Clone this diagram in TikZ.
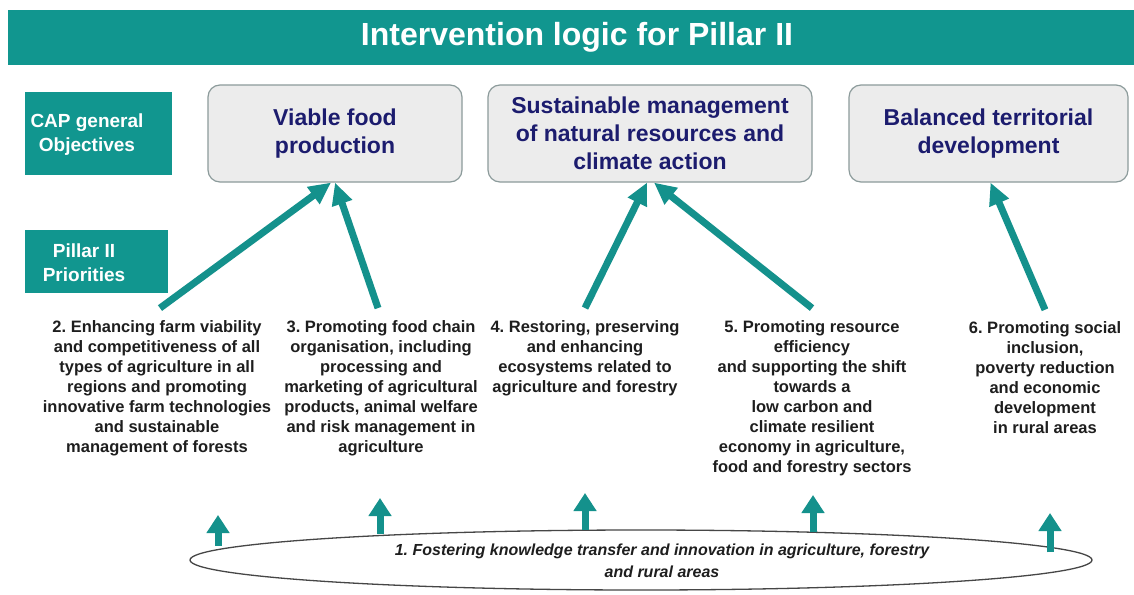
\documentclass[tikz,border=0pt]{standalone}
\usepackage{fontspec}
\setmainfont{Liberation Sans}
\usetikzlibrary{arrows.meta,shapes.geometric,calc}
\definecolor{teal1}{RGB}{17,150,143}
\definecolor{arrowteal}{RGB}{20,145,140}
\definecolor{boxfill}{RGB}{236,236,236}
\definecolor{boxdraw}{RGB}{140,155,155}
\definecolor{navy}{RGB}{28,28,110}
\definecolor{txt}{RGB}{30,30,30}
\definecolor{ellgray}{RGB}{70,70,70}
\frenchspacing
\begin{document}
\begin{tikzpicture}[x=1pt,y=-1pt,
  lbl/.style={text=white, font=\bfseries\fontsize{19}{24}\selectfont, align=center, inner sep=0pt},
  objbox/.style={draw=boxdraw, line width=1.2pt, fill=boxfill, rounded corners=12pt, minimum height=97pt, text=navy, font=\bfseries\fontsize{23}{28}\selectfont, align=center},
  prio/.style={text=txt, font=\bfseries\fontsize{16.5}{20}\selectfont, align=center, inner sep=0pt},
  bigarrow/.style={draw=arrowteal, line width=7pt, -{Triangle[length=22pt,width=20pt]}},
  smallarrow/.style={draw=arrowteal, line width=7pt, -{Triangle[length=18pt,width=22pt]}},
]
\fill[white] (0,0) rectangle (1134,594);
\useasboundingbox (0,0) rectangle (1134,594);

% title bar
\fill[teal1] (8,10) rectangle (1134,65);
\node[text=white, font=\bfseries\fontsize{32}{38}\selectfont] (title) at (577,37) {Intervention logic for Pillar II};

% row labels
\fill[teal1] (25,92) rectangle (172,175);
\node[lbl] (cap) at (87,135) {CAP general\\Objectives};
\fill[teal1] (25,230) rectangle (168,293);
\node[lbl] (pil) at (84,263) {Pillar II\\Priorities};

% objectives
\node[objbox, minimum width=254pt] (o1) at (335,133.5) {Viable food\\production};
\node[objbox, minimum width=324pt] (o2) at (650,133.5) {Sustainable management\\of natural resources and\\climate action};
\node[objbox, minimum width=279pt] (o3) at (988.5,133.5) {Balanced territorial\\development};

% priorities
\node[prio] (p2) at (157,388) {2. Enhancing farm viability\\and competitiveness of all\\types of agriculture in all\\regions and promoting\\innovative farm technologies\\and sustainable\\management of forests};
\node[prio] (p3) at (381,388) {3. Promoting food chain\\organisation, including\\processing and\\marketing of agricultural\\products, animal welfare\\and risk management in\\agriculture};
\node[prio] (p4) at (585,358) {4. Restoring, preserving\\and enhancing\\ecosystems related to\\agriculture and forestry};
\node[prio] (p5) at (812,398) {5. Promoting resource\\efficiency\\and supporting the shift\\towards a\\low carbon and\\climate resilient\\economy in agriculture,\\food and forestry sectors};
\node[prio] (p6) at (1045,378) {6. Promoting social\\inclusion,\\poverty reduction\\and economic\\development\\in rural areas};

% arrows priorities -> objectives
\draw[bigarrow] ($(p2.north)+(3,-12)$) -- ($(o1.south)+(-4,0)$);
\draw[bigarrow] ($(p3.north)+(-3,-12)$) -- ($(o1.south)+(0,0)$);
\draw[bigarrow] ($(p4.north)+(0,-12)$) -- ($(o2.south)+(-3,0)$);
\draw[bigarrow] ($(p5.north)+(0,-12)$) -- ($(o2.south)+(4,0)$);
\draw[bigarrow] ($(p6.north)+(0,-12)$) -- ($(o3.south)+(2,0)$);

% priority 1 ellipse
\node[ellipse, draw=ellgray, line width=1.3pt, fill=white, minimum width=902pt, minimum height=60pt, inner sep=0pt] (e1) at (641,560) {};
\node[text=txt, font=\bfseries\itshape\fontsize{16}{22}\selectfont, align=center, inner sep=0pt] (ft) at (662,561) {1. Fostering knowledge transfer and innovation in agriculture, forestry\\and rural areas};

\coordinate (t1) at (218,515);
\coordinate (t2) at (380,498);
\coordinate (t3) at (585,493);
\coordinate (t4) at (813,495);
\coordinate (t5) at (1050,513);
\draw[smallarrow] (t1 |- e1.178.6) -- (t1);
\draw[smallarrow] (t2 |- e1.174.6) -- (t2);
\draw[smallarrow] (t3 |- e1.152) -- (t3);
\draw[smallarrow] (t4 |- e1.9.15) -- (t4);
\draw[smallarrow] (t5 |- e1.1.76) -- (t5);
\end{tikzpicture}
\end{document}
